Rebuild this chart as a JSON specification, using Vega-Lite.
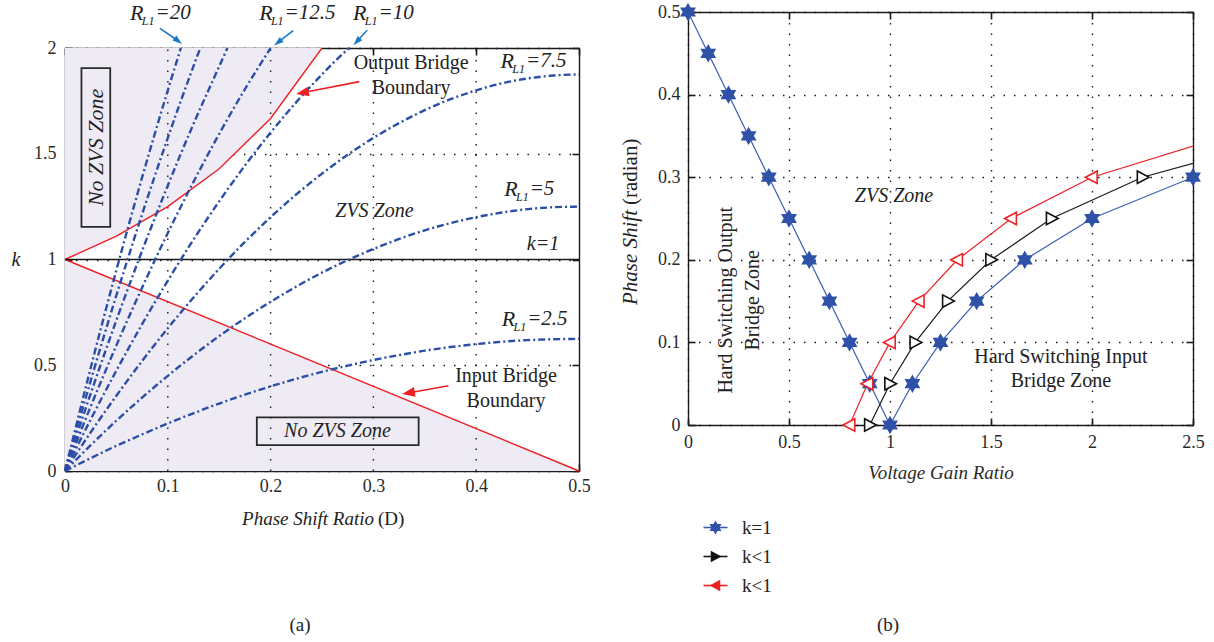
{
"$schema": "https://vega.github.io/schema/vega-lite/v6.json",
"background": "white",
"padding": {"left": 11, "top": 1, "right": 2, "bottom": 2},
"spacing": 29,
"config": {
  "font": "Liberation Serif",
  "view": {"stroke": null},
  "axis": {
    "labelFont": "Liberation Serif", "labelFontSize": 18, "labelColor": "#2a2a2a",
    "labelFlush": false, "labelOverlap": false,
    "tickColor": "#1a1a1a", "tickSize": -7, "tickWidth": 1.6,
    "domain": true, "domainColor": "#1a1a1a", "domainWidth": 1.4,
    "grid": false, "gridColor": "#1a1a1a", "gridDash": [1.5, 9], "gridWidth": 1.4,
    "zindex": 1,
    "titleFont": "Liberation Serif", "titleFontStyle": "italic", "titleFontWeight": "normal", "titleFontSize": 19, "titleColor": "#2a2a2a"
  },
  "text": {"font": "Liberation Serif", "color": "#222222"}
},
"datasets": {
  "shade": [
    {"g": "top", "D": 0, "lo": 1, "hi": 2},
    {"g": "top", "D": 0.05, "lo": 1.111, "hi": 2},
    {"g": "top", "D": 0.1, "lo": 1.25, "hi": 2},
    {"g": "top", "D": 0.15, "lo": 1.429, "hi": 2},
    {"g": "top", "D": 0.2, "lo": 1.667, "hi": 2},
    {"g": "top", "D": 0.25, "lo": 2, "hi": 2},
    {"g": "bot", "D": 0, "lo": 0, "hi": 1},
    {"g": "bot", "D": 0.5, "lo": 0, "hi": 0}
  ],
  "bound": [
    {"g": "out", "D": 0, "k": 1},
    {"g": "out", "D": 0.05, "k": 1.111},
    {"g": "out", "D": 0.1, "k": 1.25},
    {"g": "out", "D": 0.15, "k": 1.429},
    {"g": "out", "D": 0.2, "k": 1.667},
    {"g": "out", "D": 0.25, "k": 2},
    {"g": "in", "D": 0, "k": 1},
    {"g": "in", "D": 0.5, "k": 0}
  ],
  "curves": [
    {"R": 2.5, "D": 0, "k": 0}, {"R": 2.5, "D": 0.025, "k": 0.061}, {"R": 2.5, "D": 0.05, "k": 0.119}, {"R": 2.5, "D": 0.075, "k": 0.173},
    {"R": 2.5, "D": 0.1, "k": 0.225}, {"R": 2.5, "D": 0.125, "k": 0.273}, {"R": 2.5, "D": 0.15, "k": 0.319}, {"R": 2.5, "D": 0.175, "k": 0.361},
    {"R": 2.5, "D": 0.2, "k": 0.4}, {"R": 2.5, "D": 0.225, "k": 0.436}, {"R": 2.5, "D": 0.25, "k": 0.469}, {"R": 2.5, "D": 0.275, "k": 0.498},
    {"R": 2.5, "D": 0.3, "k": 0.525}, {"R": 2.5, "D": 0.325, "k": 0.548}, {"R": 2.5, "D": 0.35, "k": 0.569}, {"R": 2.5, "D": 0.375, "k": 0.586},
    {"R": 2.5, "D": 0.4, "k": 0.6}, {"R": 2.5, "D": 0.425, "k": 0.611}, {"R": 2.5, "D": 0.45, "k": 0.619}, {"R": 2.5, "D": 0.475, "k": 0.623},
    {"R": 2.5, "D": 0.5, "k": 0.625},
    {"R": 5, "D": 0, "k": 0}, {"R": 5, "D": 0.025, "k": 0.122}, {"R": 5, "D": 0.05, "k": 0.238}, {"R": 5, "D": 0.075, "k": 0.347},
    {"R": 5, "D": 0.1, "k": 0.45}, {"R": 5, "D": 0.125, "k": 0.547}, {"R": 5, "D": 0.15, "k": 0.638}, {"R": 5, "D": 0.175, "k": 0.722},
    {"R": 5, "D": 0.2, "k": 0.8}, {"R": 5, "D": 0.225, "k": 0.872}, {"R": 5, "D": 0.25, "k": 0.938}, {"R": 5, "D": 0.275, "k": 0.997},
    {"R": 5, "D": 0.3, "k": 1.05}, {"R": 5, "D": 0.325, "k": 1.097}, {"R": 5, "D": 0.35, "k": 1.138}, {"R": 5, "D": 0.375, "k": 1.172},
    {"R": 5, "D": 0.4, "k": 1.2}, {"R": 5, "D": 0.425, "k": 1.222}, {"R": 5, "D": 0.45, "k": 1.238}, {"R": 5, "D": 0.475, "k": 1.247},
    {"R": 5, "D": 0.5, "k": 1.25},
    {"R": 7.5, "D": 0, "k": 0}, {"R": 7.5, "D": 0.025, "k": 0.183}, {"R": 7.5, "D": 0.05, "k": 0.356}, {"R": 7.5, "D": 0.075, "k": 0.52},
    {"R": 7.5, "D": 0.1, "k": 0.675}, {"R": 7.5, "D": 0.125, "k": 0.82}, {"R": 7.5, "D": 0.15, "k": 0.956}, {"R": 7.5, "D": 0.175, "k": 1.083},
    {"R": 7.5, "D": 0.2, "k": 1.2}, {"R": 7.5, "D": 0.225, "k": 1.308}, {"R": 7.5, "D": 0.25, "k": 1.406}, {"R": 7.5, "D": 0.275, "k": 1.495},
    {"R": 7.5, "D": 0.3, "k": 1.575}, {"R": 7.5, "D": 0.325, "k": 1.645}, {"R": 7.5, "D": 0.35, "k": 1.706}, {"R": 7.5, "D": 0.375, "k": 1.758},
    {"R": 7.5, "D": 0.4, "k": 1.8}, {"R": 7.5, "D": 0.425, "k": 1.833}, {"R": 7.5, "D": 0.45, "k": 1.856}, {"R": 7.5, "D": 0.475, "k": 1.87},
    {"R": 7.5, "D": 0.5, "k": 1.875},
    {"R": 10, "D": 0, "k": 0}, {"R": 10, "D": 0.025, "k": 0.244}, {"R": 10, "D": 0.05, "k": 0.475}, {"R": 10, "D": 0.075, "k": 0.694},
    {"R": 10, "D": 0.1, "k": 0.9}, {"R": 10, "D": 0.125, "k": 1.094}, {"R": 10, "D": 0.15, "k": 1.275}, {"R": 10, "D": 0.175, "k": 1.444},
    {"R": 10, "D": 0.2, "k": 1.6}, {"R": 10, "D": 0.225, "k": 1.744}, {"R": 10, "D": 0.25, "k": 1.875}, {"R": 10, "D": 0.275, "k": 1.994},
    {"R": 10, "D": 0.2764, "k": 2},
    {"R": 12.5, "D": 0, "k": 0}, {"R": 12.5, "D": 0.025, "k": 0.305}, {"R": 12.5, "D": 0.05, "k": 0.594}, {"R": 12.5, "D": 0.075, "k": 0.867},
    {"R": 12.5, "D": 0.1, "k": 1.125}, {"R": 12.5, "D": 0.125, "k": 1.367}, {"R": 12.5, "D": 0.15, "k": 1.594}, {"R": 12.5, "D": 0.175, "k": 1.805},
    {"R": 12.5, "D": 0.2, "k": 2},
    {"R": 15, "D": 0, "k": 0}, {"R": 15, "D": 0.025, "k": 0.366}, {"R": 15, "D": 0.05, "k": 0.713}, {"R": 15, "D": 0.075, "k": 1.041},
    {"R": 15, "D": 0.1, "k": 1.35}, {"R": 15, "D": 0.125, "k": 1.641}, {"R": 15, "D": 0.15, "k": 1.913}, {"R": 15, "D": 0.158, "k": 2},
    {"R": 17.5, "D": 0, "k": 0}, {"R": 17.5, "D": 0.025, "k": 0.427}, {"R": 17.5, "D": 0.05, "k": 0.831}, {"R": 17.5, "D": 0.075, "k": 1.214},
    {"R": 17.5, "D": 0.1, "k": 1.575}, {"R": 17.5, "D": 0.125, "k": 1.914}, {"R": 17.5, "D": 0.1316, "k": 2},
    {"R": 20, "D": 0, "k": 0}, {"R": 20, "D": 0.025, "k": 0.488}, {"R": 20, "D": 0.05, "k": 0.95}, {"R": 20, "D": 0.075, "k": 1.388},
    {"R": 20, "D": 0.1, "k": 1.8}, {"R": 20, "D": 0.1127, "k": 2}
  ],
  "boxes": [
    {"D": 0.016, "D2": 0.044, "k": 1.154, "k2": 1.905},
    {"D": 0.1866, "D2": 0.344, "k": 0.122, "k2": 0.254}
  ],
  "arrows": [
    {"c": "b", "x1": 0.0924, "y1": 2.093, "hx": 0.1095, "hy": 2.0355, "ang": 128},
    {"c": "b", "x1": 0.222, "y1": 2.082, "hx": 0.2078, "hy": 2.0285, "ang": -128},
    {"c": "b", "x1": 0.294, "y1": 2.084, "hx": 0.2843, "hy": 2.0333, "ang": -137},
    {"c": "r", "x1": 0.2863, "y1": 1.841, "hx": 0.232, "hy": 1.7894, "ang": -101},
    {"c": "r", "x1": 0.373, "y1": 0.403, "hx": 0.3352, "hy": 0.3699, "ang": -100}
  ],
  "zones": [
    {"D": 0.301, "k": 1.23, "t": "ZVS Zone"},
    {"D": 0.465, "k": 1.075, "t": "k=1"},
    {"D": 0.265, "k": 0.188, "t": "No ZVS Zone"}
  ],
  "zoneV": [{"D": 0.03, "k": 1.53, "t": "No ZVS Zone"}],
  "bnd": [
    {"D": 0.3367, "k": 1.929, "t": "Output Bridge"},
    {"D": 0.3367, "k": 1.81, "t": "Boundary"},
    {"D": 0.429, "k": 0.447, "t": "Input Bridge"},
    {"D": 0.429, "k": 0.329, "t": "Boundary"}
  ],
  "rl": [
    {"D": 0.088, "k": 2.167, "v": "=20"},
    {"D": 0.2136, "k": 2.167, "v": "=12.5"},
    {"D": 0.305, "k": 2.167, "v": "=10"},
    {"D": 0.4485, "k": 1.937, "v": "=7.5"},
    {"D": 0.452, "k": 1.333, "v": "=5"},
    {"D": 0.4496, "k": 0.721, "v": "=2.5"}
  ],
  "ltxt": [
    {"D": -0.0477, "k": 1, "t": "k"},
    {"D": 0.3006, "k": -0.227, "t": "Phase Shift Ratio"},
    {"D": 0.3045, "k": -0.227, "t": "(D)"},
    {"D": 0.2286, "k": -0.728, "t": "(a)"}
  ],
  "ser": [
    {"s": "a", "x": 0, "y": 0.5}, {"s": "a", "x": 0.1, "y": 0.45}, {"s": "a", "x": 0.2, "y": 0.4}, {"s": "a", "x": 0.3, "y": 0.35},
    {"s": "a", "x": 0.4, "y": 0.3}, {"s": "a", "x": 0.5, "y": 0.25}, {"s": "a", "x": 0.6, "y": 0.2}, {"s": "a", "x": 0.7, "y": 0.15},
    {"s": "a", "x": 0.8, "y": 0.1}, {"s": "a", "x": 0.9, "y": 0.05}, {"s": "a", "x": 1.0, "y": 0}, {"s": "a", "x": 1.111, "y": 0.05},
    {"s": "a", "x": 1.25, "y": 0.1}, {"s": "a", "x": 1.429, "y": 0.15}, {"s": "a", "x": 1.667, "y": 0.2}, {"s": "a", "x": 2.0, "y": 0.25},
    {"s": "a", "x": 2.5, "y": 0.3},
    {"s": "b", "x": 0.9, "y": 0}, {"s": "b", "x": 1.0, "y": 0.05}, {"s": "b", "x": 1.125, "y": 0.1}, {"s": "b", "x": 1.286, "y": 0.15},
    {"s": "b", "x": 1.5, "y": 0.2}, {"s": "b", "x": 1.8, "y": 0.25}, {"s": "b", "x": 2.25, "y": 0.3}, {"s": "b", "x": 3.0, "y": 0.35},
    {"s": "c", "x": 0.8, "y": 0}, {"s": "c", "x": 0.889, "y": 0.05}, {"s": "c", "x": 1.0, "y": 0.1}, {"s": "c", "x": 1.143, "y": 0.15},
    {"s": "c", "x": 1.333, "y": 0.2}, {"s": "c", "x": 1.6, "y": 0.25}, {"s": "c", "x": 2.0, "y": 0.3}, {"s": "c", "x": 2.667, "y": 0.35}
  ],
  "rz": [{"x": 1.02, "y": 0.277, "t": "ZVS Zone"}],
  "rv": [
    {"x": 0.19, "y": 0.151, "t": "Hard Switching Output"},
    {"x": 0.323, "y": 0.151, "t": "Bridge Zone"}
  ],
  "rh": [
    {"x": 1.846, "y": 0.0828, "t": "Hard Switching Input"},
    {"x": 1.846, "y": 0.0528, "t": "Bridge Zone"}
  ],
  "rt": [
    {"x": -0.282, "y": 0.2603, "t": "Phase Shift"},
    {"x": -0.282, "y": 0.2663, "t": "(radian)"},
    {"x": 0.99, "y": -0.242, "t": "(b)"}
  ]
},
"hconcat": [
  {
    "width": 514, "height": 459,
    "resolve": {"axis": {"x": "independent", "y": "independent"}},
    "layer": [
      {"data": {"name": "shade"}, "mark": {"type": "area", "color": "#efebf4"},
       "encoding": {
         "x": {"field": "D", "type": "quantitative", "scale": {"domain": [0, 0.5], "nice": false, "zero": false},
               "axis": {"orient": "bottom", "values": [0, 0.1, 0.2, 0.3, 0.4, 0.5], "format": "~g", "labelPadding": 13, "grid": false, "title": null}},
         "y": {"field": "lo", "type": "quantitative", "scale": {"domain": [0, 2], "range": [459, 36], "nice": false, "zero": false},
               "axis": {"orient": "left", "values": [0, 0.5, 1, 1.5, 2], "format": "~g", "labelPadding": 16, "grid": true, "title": null}},
         "y2": {"field": "hi"},
         "detail": {"field": "g"}
       }},
      {"data": {"name": "shade"}, "mark": {"type": "point", "opacity": 0},
       "encoding": {
         "x": {"field": "D", "type": "quantitative", "axis": {"orient": "top", "offset": -36, "values": [0, 0.1, 0.2, 0.3, 0.4, 0.5], "labels": false, "title": null}},
         "y": {"field": "lo", "type": "quantitative", "axis": {"orient": "right", "values": [0, 0.5, 1, 1.5, 2], "labels": false, "title": null}}
       }},
      {"data": {"values": [{}]}, "mark": {"type": "rule", "color": "#1a1a1a", "strokeWidth": 1.4, "strokeDash": [1.5, 9]},
       "encoding": {"x": {"datum": 0.1, "type": "quantitative", "axis": null}, "y": {"datum": 0, "type": "quantitative", "axis": null}, "y2": {"datum": 2}}},
      {"data": {"values": [{}]}, "mark": {"type": "rule", "color": "#1a1a1a", "strokeWidth": 1.4, "strokeDash": [1.5, 9]},
       "encoding": {"x": {"datum": 0.2, "type": "quantitative", "axis": null}, "y": {"datum": 0, "type": "quantitative", "axis": null}, "y2": {"datum": 2}}},
      {"data": {"values": [{}]}, "mark": {"type": "rule", "color": "#1a1a1a", "strokeWidth": 1.4, "strokeDash": [1.5, 9]},
       "encoding": {"x": {"datum": 0.3, "type": "quantitative", "axis": null}, "y": {"datum": 0, "type": "quantitative", "axis": null}, "y2": {"datum": 2}}},
      {"data": {"values": [{}]}, "mark": {"type": "rule", "color": "#1a1a1a", "strokeWidth": 1.4, "strokeDash": [1.5, 9]},
       "encoding": {"x": {"datum": 0.4, "type": "quantitative", "axis": null}, "y": {"datum": 0, "type": "quantitative", "axis": null}, "y2": {"datum": 2}}},
      {"data": {"name": "bound"}, "mark": {"type": "line", "color": "#ee2024", "strokeWidth": 1.4},
       "encoding": {
         "x": {"field": "D", "type": "quantitative", "axis": null},
         "y": {"field": "k", "type": "quantitative", "axis": null},
         "detail": {"field": "g"}
       }},
      {"data": {"values": [{}]}, "mark": {"type": "rule", "color": "#1a1a1a", "strokeWidth": 1.5},
       "encoding": {"y": {"datum": 1, "type": "quantitative", "axis": null}}},
      {"data": {"name": "curves"}, "mark": {"type": "line", "color": "#2b4ea6", "strokeWidth": 2.4, "strokeDash": [7, 3, 2, 3], "interpolate": "monotone"},
       "encoding": {
         "x": {"field": "D", "type": "quantitative", "axis": null},
         "y": {"field": "k", "type": "quantitative", "axis": null},
         "detail": {"field": "R"}
       }},
      {"data": {"name": "boxes"}, "mark": {"type": "rect", "fill": "transparent", "stroke": "#2a2a2a", "strokeWidth": 1.8},
       "encoding": {
         "x": {"field": "D", "type": "quantitative", "axis": null}, "x2": {"field": "D2"},
         "y": {"field": "k", "type": "quantitative", "axis": null}, "y2": {"field": "k2"}
       }},
      {"data": {"name": "arrows"}, "mark": {"type": "rule", "strokeWidth": 1.6},
       "encoding": {
         "x": {"field": "x1", "type": "quantitative", "axis": null}, "x2": {"field": "hx"},
         "y": {"field": "y1", "type": "quantitative", "axis": null}, "y2": {"field": "hy"},
         "color": {"field": "c", "type": "nominal", "scale": {"domain": ["b", "r"], "range": ["#1f77c4", "#ee2024"]}, "legend": null}
       }},
      {"data": {"name": "arrows"}, "transform": [{"filter": {"field": "c", "equal": "b"}}],
       "mark": {"type": "point", "shape": "M0,-1L0.55,0.7L-0.55,0.7Z", "filled": true, "size": 130, "color": "#1f77c4", "opacity": 1},
       "encoding": {
         "x": {"field": "hx", "type": "quantitative", "axis": null},
         "y": {"field": "hy", "type": "quantitative", "axis": null},
         "angle": {"field": "ang", "type": "quantitative", "scale": null}
       }},
      {"data": {"name": "arrows"}, "transform": [{"filter": {"field": "c", "equal": "r"}}],
       "mark": {"type": "point", "shape": "M0,-1L0.65,0.7L-0.65,0.7Z", "filled": true, "size": 225, "color": "#ee2024", "opacity": 1},
       "encoding": {
         "x": {"field": "hx", "type": "quantitative", "axis": null},
         "y": {"field": "hy", "type": "quantitative", "axis": null},
         "angle": {"field": "ang", "type": "quantitative", "scale": null}
       }},
      {"data": {"name": "zones"}, "mark": {"type": "text", "fontStyle": "italic", "fontSize": 20, "align": "center", "baseline": "middle"},
       "encoding": {
         "x": {"field": "D", "type": "quantitative", "axis": null},
         "y": {"field": "k", "type": "quantitative", "axis": null},
         "text": {"field": "t"}
       }},
      {"data": {"name": "zoneV"}, "mark": {"type": "text", "fontStyle": "italic", "fontSize": 22, "angle": 270, "align": "center", "baseline": "middle"},
       "encoding": {
         "x": {"field": "D", "type": "quantitative", "axis": null},
         "y": {"field": "k", "type": "quantitative", "axis": null},
         "text": {"field": "t"}
       }},
      {"data": {"name": "bnd"}, "mark": {"type": "text", "fontSize": 20, "align": "center", "baseline": "middle"},
       "encoding": {
         "x": {"field": "D", "type": "quantitative", "axis": null},
         "y": {"field": "k", "type": "quantitative", "axis": null},
         "text": {"field": "t"}
       }},
      {"data": {"name": "rl"}, "mark": {"type": "text", "fontStyle": "italic", "fontSize": 22, "align": "right", "baseline": "middle", "dx": -12},
       "encoding": {
         "x": {"field": "D", "type": "quantitative", "axis": null},
         "y": {"field": "k", "type": "quantitative", "axis": null},
         "text": {"value": "R"}
       }},
      {"data": {"name": "rl"}, "mark": {"type": "text", "fontStyle": "italic", "fontSize": 12, "align": "right", "baseline": "middle", "dx": -1, "dy": 8},
       "encoding": {
         "x": {"field": "D", "type": "quantitative", "axis": null},
         "y": {"field": "k", "type": "quantitative", "axis": null},
         "text": {"value": "L1"}
       }},
      {"data": {"name": "rl"}, "mark": {"type": "text", "fontStyle": "italic", "fontSize": 21, "align": "left", "baseline": "middle"},
       "encoding": {
         "x": {"field": "D", "type": "quantitative", "axis": null},
         "y": {"field": "k", "type": "quantitative", "axis": null},
         "text": {"field": "v"}
       }},
      {"data": {"name": "ltxt"}, "transform": [{"filter": {"field": "t", "equal": "k"}}],
       "mark": {"type": "text", "fontStyle": "italic", "fontSize": 20, "align": "center", "baseline": "middle"},
       "encoding": {
         "x": {"field": "D", "type": "quantitative", "axis": null},
         "y": {"field": "k", "type": "quantitative", "axis": null},
         "text": {"field": "t"}
       }},
      {"data": {"name": "ltxt"}, "transform": [{"filter": {"field": "t", "equal": "Phase Shift Ratio"}}],
       "mark": {"type": "text", "fontStyle": "italic", "fontSize": 19, "align": "right", "baseline": "middle"},
       "encoding": {
         "x": {"field": "D", "type": "quantitative", "axis": null},
         "y": {"field": "k", "type": "quantitative", "axis": null},
         "text": {"field": "t"}
       }},
      {"data": {"name": "ltxt"}, "transform": [{"filter": {"field": "t", "equal": "(D)"}}],
       "mark": {"type": "text", "fontSize": 19, "align": "left", "baseline": "middle"},
       "encoding": {
         "x": {"field": "D", "type": "quantitative", "axis": null},
         "y": {"field": "k", "type": "quantitative", "axis": null},
         "text": {"field": "t"}
       }},
      {"data": {"name": "ltxt"}, "transform": [{"filter": {"field": "t", "equal": "(a)"}}],
       "mark": {"type": "text", "fontSize": 19, "align": "center", "baseline": "middle"},
       "encoding": {
         "x": {"field": "D", "type": "quantitative", "axis": null},
         "y": {"field": "k", "type": "quantitative", "axis": null},
         "text": {"field": "t"}
       }}
    ]
  },
  {
    "width": 505, "height": 413,
    "resolve": {
      "axis": {"x": "independent", "y": "independent"},
      "scale": {"stroke": "independent", "fill": "independent", "shape": "independent"}
    },
    "layer": [
      {"data": {"name": "ser"}, "mark": {"type": "line", "strokeWidth": 1.2, "clip": true},
       "encoding": {
         "x": {"field": "x", "type": "quantitative", "scale": {"domain": [0, 2.5], "nice": false, "zero": false},
               "axis": {"orient": "bottom", "values": [0, 0.5, 1, 1.5, 2, 2.5], "format": "~g", "labelPadding": 15, "grid": true, "title": "Voltage Gain Ratio", "titlePadding": 12}},
         "y": {"field": "y", "type": "quantitative", "scale": {"domain": [0, 0.5], "nice": false, "zero": false},
               "axis": {"orient": "left", "values": [0, 0.1, 0.2, 0.3, 0.4, 0.5], "format": "~g", "labelPadding": 15, "grid": true, "title": null}},
         "stroke": {"field": "s", "type": "nominal", "scale": {"domain": ["a", "b", "c"], "range": ["#3a5cb4", "#1a1a1a", "#ee2024"]},
            "legend": {"title": null, "orient": "none", "legendX": 18, "legendY": 506, "symbolType": "M-1.9,0L1.9,0", "labelExpr": "datum.label == 'a' ? 'k=1' : 'k<1'", "labelFont": "Liberation Serif", "labelFontSize": 19, "labelOpacity": 0, "symbolSize": 160, "symbolStrokeWidth": 1.6, "rowPadding": 9, "labelOffset": 17, "padding": 0}}
       }},
      {"data": {"name": "ser"}, "transform": [{"filter": "datum.x <= 2.5"}], "mark": {"type": "point", "opacity": 0},
       "encoding": {
         "x": {"field": "x", "type": "quantitative", "axis": {"orient": "top", "values": [0, 0.5, 1, 1.5, 2, 2.5], "labels": false, "title": null}},
         "y": {"field": "y", "type": "quantitative", "axis": {"orient": "right", "values": [0, 0.1, 0.2, 0.3, 0.4, 0.5], "labels": false, "title": null}}
       }},
      {"data": {"name": "ser"}, "transform": [{"filter": "datum.x <= 2.5"}],
       "mark": {"type": "point", "size": 190, "strokeWidth": 1.6, "opacity": 1, "filled": true},
       "encoding": {
         "x": {"field": "x", "type": "quantitative", "axis": null},
         "y": {"field": "y", "type": "quantitative", "axis": null},
         "shape": {"field": "s", "type": "nominal", "scale": {"domain": ["a", "b", "c"], "range": [
            "M0,-1.1L0.95,0.55L-0.95,0.55Z M0,1.1L-0.95,-0.55L0.95,-0.55Z",
            "M-0.75,-0.9L0.95,0L-0.75,0.9Z",
            "M0.75,-0.9L-0.95,0L0.75,0.9Z"]}, "legend": null},
         "fill": {"field": "s", "type": "nominal", "scale": {"domain": ["a", "b", "c"], "range": ["#2f52a8", "#ffffff", "#ffffff"]}, "legend": null},
         "stroke": {"field": "s", "type": "nominal", "scale": {"domain": ["a", "b", "c"], "range": ["#2f52a8", "#111111", "#ee2024"]}, "legend": null}
       }},
      {"data": {"name": "ser"}, "transform": [{"filter": "false"}],
       "mark": {"type": "point", "size": 160, "opacity": 1, "filled": true},
       "encoding": {
         "x": {"field": "x", "type": "quantitative", "axis": null},
         "y": {"field": "y", "type": "quantitative", "axis": null},
         "shape": {"field": "s", "type": "nominal", "scale": {"domain": ["a", "b", "c"], "range": [
            "M0,-1.1L0.95,0.55L-0.95,0.55Z M0,1.1L-0.95,-0.55L0.95,-0.55Z",
            "M-0.75,-0.9L0.95,0L-0.75,0.9Z",
            "M0.75,-0.9L-0.95,0L0.75,0.9Z"]},
            "legend": {"title": null, "orient": "none", "legendX": 18, "legendY": 506, "labelExpr": "datum.label == 'a' ? 'k=1' : 'k<1'", "labelFont": "Liberation Serif", "labelFontSize": 19, "labelColor": "#222222", "symbolSize": 160, "rowPadding": 9, "labelOffset": 17, "padding": 0}},
         "fill": {"field": "s", "type": "nominal", "scale": {"domain": ["a", "b", "c"], "range": ["#2f52a8", "#111111", "#ee2024"]},
            "legend": {"title": null, "orient": "none", "legendX": 18, "legendY": 506, "labelExpr": "datum.label == 'a' ? 'k=1' : 'k<1'", "labelFont": "Liberation Serif", "labelFontSize": 19, "labelColor": "#222222", "symbolSize": 160, "rowPadding": 9, "labelOffset": 17, "padding": 0}}
       }},
      {"data": {"name": "rz"}, "mark": {"type": "text", "fontStyle": "italic", "fontSize": 20, "align": "center", "baseline": "middle"},
       "encoding": {
         "x": {"field": "x", "type": "quantitative", "axis": null},
         "y": {"field": "y", "type": "quantitative", "axis": null},
         "text": {"field": "t"}
       }},
      {"data": {"name": "rv"}, "mark": {"type": "text", "fontSize": 20, "angle": 270, "align": "center", "baseline": "middle"},
       "encoding": {
         "x": {"field": "x", "type": "quantitative", "axis": null},
         "y": {"field": "y", "type": "quantitative", "axis": null},
         "text": {"field": "t"}
       }},
      {"data": {"name": "rh"}, "mark": {"type": "text", "fontSize": 20, "align": "center", "baseline": "middle"},
       "encoding": {
         "x": {"field": "x", "type": "quantitative", "axis": null},
         "y": {"field": "y", "type": "quantitative", "axis": null},
         "text": {"field": "t"}
       }},
      {"data": {"name": "rt"}, "transform": [{"filter": {"field": "t", "equal": "Phase Shift"}}],
       "mark": {"type": "text", "fontStyle": "italic", "fontSize": 21, "angle": 270, "align": "right", "baseline": "middle"},
       "encoding": {
         "x": {"field": "x", "type": "quantitative", "axis": null},
         "y": {"field": "y", "type": "quantitative", "axis": null},
         "text": {"field": "t"}
       }},
      {"data": {"name": "rt"}, "transform": [{"filter": {"field": "t", "equal": "(radian)"}}],
       "mark": {"type": "text", "fontSize": 21, "angle": 270, "align": "left", "baseline": "middle"},
       "encoding": {
         "x": {"field": "x", "type": "quantitative", "axis": null},
         "y": {"field": "y", "type": "quantitative", "axis": null},
         "text": {"field": "t"}
       }},
      {"data": {"name": "rt"}, "transform": [{"filter": {"field": "t", "equal": "(b)"}}],
       "mark": {"type": "text", "fontSize": 19, "align": "center", "baseline": "middle"},
       "encoding": {
         "x": {"field": "x", "type": "quantitative", "axis": null},
         "y": {"field": "y", "type": "quantitative", "axis": null},
         "text": {"field": "t"}
       }}
    ]
  }
]
}
